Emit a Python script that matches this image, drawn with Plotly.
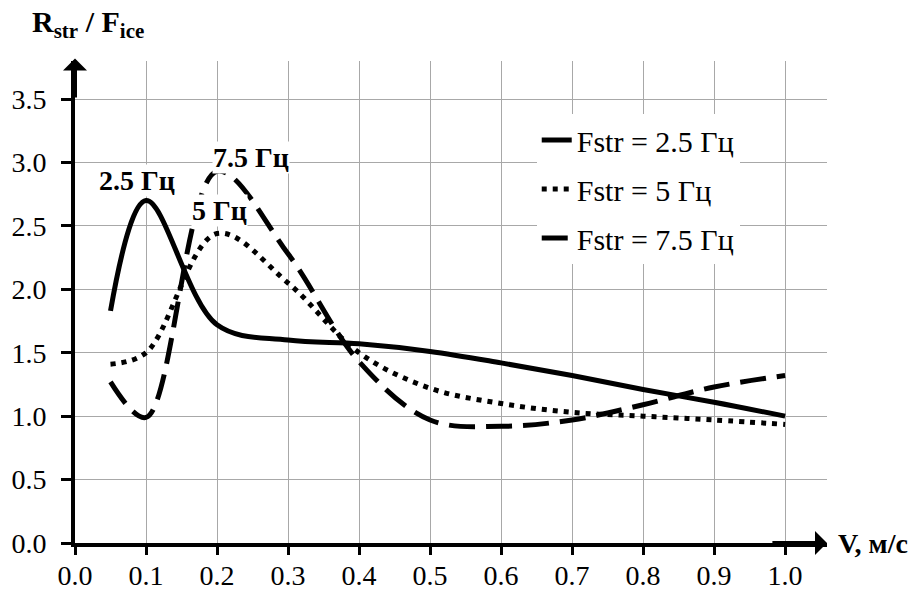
import plotly.graph_objects as go

v = [0.05, 0.1, 0.2, 0.3, 0.4, 0.5, 0.6, 0.7, 0.8, 0.9, 1.0]
r_25 = [1.83, 2.70, 1.72, 1.60, 1.57, 1.51, 1.42, 1.32, 1.21, 1.11, 1.00]
r_5 = [1.41, 1.50, 2.44, 2.05, 1.50, 1.22, 1.10, 1.03, 1.00, 0.97, 0.935]
r_75 = [1.27, 0.99, 2.93, 2.28, 1.43, 0.97, 0.92, 0.97, 1.09, 1.23, 1.32]

names = ["Fstr = 2.5 Гц", "Fstr = 5 Гц", "Fstr = 7.5 Гц"]
x_ticks = [0.0, 0.1, 0.2, 0.3, 0.4, 0.5, 0.6, 0.7, 0.8, 0.9, 1.0]
y_ticks = [0.0, 0.5, 1.0, 1.5, 2.0, 2.5, 3.0, 3.5]

FONT = "'Liberation Serif', 'Times New Roman', serif"

# page body has an 8px default margin; figure sized to fit the window
W, H = 910, 582
ML, MT, MR, MB = 67, 53, 91, 47
PW, PH = W - ML - MR, H - MT - MB

fig = go.Figure()
styles = [
    dict(dash="solid", width=5),
    dict(dash="5px,6px", width=5),
    dict(dash="26px,11px", width=5),
]
for i, (vals, nm) in enumerate(zip([r_25, r_5, r_75], names)):
    fig.add_trace(go.Scatter(
        x=v, y=vals, mode="lines", name=nm, legendgroup=f"g{i}",
        line=dict(color="black", shape="spline", smoothing=1.0, **styles[i]),
    ))

fig.update_layout(
    width=W, height=H,
    paper_bgcolor="white", plot_bgcolor="white",
    margin=dict(l=ML, r=MR, t=MT, b=MB),
    font=dict(family=FONT, size=28, color="black"),
    showlegend=True,
    legend=dict(
        x=0.614, y=0.89, xanchor="left", yanchor="top",
        bgcolor="white", font=dict(family=FONT, size=30),
        traceorder="grouped", tracegroupgap=7, itemwidth=30,
    ),
    xaxis=dict(
        range=[0, 1.059], tickvals=x_ticks, ticktext=[f"{t:.1f}" for t in x_ticks],
        showgrid=True, gridcolor="#a8a8a8", gridwidth=1,
        showline=True, linecolor="black", linewidth=4,
        ticks="outside", ticklen=8, tickwidth=3, tickcolor="black",
        ticklabelstandoff=-4, zeroline=False, automargin=False,
        tickfont=dict(family=FONT, size=28),
    ),
    yaxis=dict(
        range=[0, 3.8], tickvals=y_ticks, ticktext=[f"{t:.1f}" for t in y_ticks],
        showgrid=True, gridcolor="#a8a8a8", gridwidth=1,
        showline=True, linecolor="black", linewidth=4,
        ticks="outside", ticklen=10, tickwidth=3, tickcolor="black",
        zeroline=False, ticklabelstandoff=9, automargin=False,
        tickfont=dict(family=FONT, size=28),
    ),
)

# axis arrows
fig.add_annotation(x=1.059, y=0, ax=0.98, ay=0, xref="x", yref="y", axref="x", ayref="y",
                   text="", showarrow=True, arrowhead=1, arrowsize=1.0, arrowwidth=4,
                   arrowcolor="black")
fig.add_annotation(x=0, y=3.82, ax=0, ay=3.5, xref="x", yref="y", axref="x", ayref="y",
                   text="", showarrow=True, arrowhead=1, arrowsize=1.0, arrowwidth=4,
                   arrowcolor="black")

# axis titles
fig.add_annotation(x=1.0, y=0, xref="paper", yref="y", xanchor="left", yanchor="middle",
                   xshift=9, text="<b>V, м/с</b>", showarrow=False,
                   font=dict(family=FONT, size=28))
fig.add_annotation(x=(22 - ML) / PW, y=(H - MB - 16) / PH, xref="paper", yref="paper",
                   xanchor="left", yanchor="middle",
                   text="<b>R<sub>str</sub> / F<sub>ice</sub></b>", showarrow=False,
                   font=dict(family=FONT, size=30))

# curve labels
for txt, lx, ly in [("2.5 Гц", 0.087, 2.86), ("7.5 Гц", 0.248, 3.04), ("5 Гц", 0.203, 2.62)]:
    fig.add_annotation(x=lx, y=ly, xref="x", yref="y", text=f"<b>{txt}</b>", showarrow=False,
                       bgcolor="white", borderpad=0, font=dict(family=FONT, size=28))

fig.write_html("out.html")
